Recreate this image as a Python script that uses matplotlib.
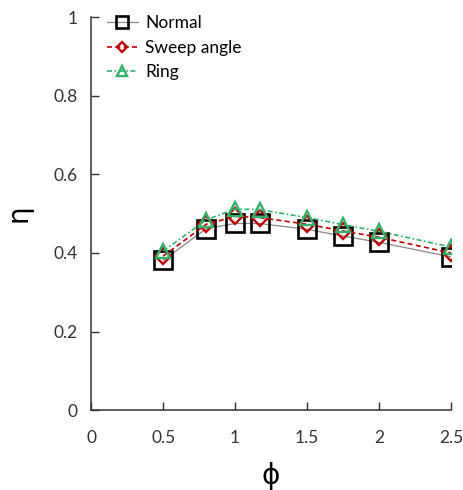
import matplotlib
matplotlib.use("Agg")
import matplotlib.pyplot as plt

phi = [0.5, 0.8, 1.0, 1.17, 1.5, 1.75, 2.0, 2.5]
normal = [0.381, 0.462, 0.475, 0.475, 0.460, 0.443, 0.427, 0.390]
sweep = [0.392, 0.473, 0.493, 0.490, 0.473, 0.456, 0.440, 0.400]
ring = [0.405, 0.484, 0.512, 0.510, 0.490, 0.472, 0.455, 0.415]

xticks = [0, 0.5, 1, 1.5, 2, 2.5]
xticklabels = ["0", "0.5", "1", "1.5", "2", "2.5"]
yticks = [0, 0.2, 0.4, 0.6, 0.8, 1]
yticklabels = ["0", "0.2", "0.4", "0.6", "0.8", "1"]

plt.rcParams['font.family'] = ['Lato', 'DejaVu Sans']

fig = plt.figure(figsize=(4.63, 4.90), dpi=100)
ax = fig.add_axes([0.197, 0.163, 0.777, 0.802])

ax.plot(phi, normal, color='#8a8a8a', lw=0.9, ls='-', marker='s', ms=12.5,
        mfc='none', mec='black', mew=1.9, label='Normal')
ax.plot(phi, sweep, color='#c00000', lw=1.2, ls=(0, (3, 2)), marker='D', ms=8.5,
        mfc='none', mec='#c00000', mew=1.7, label='Sweep angle')
ax.plot(phi, ring, color='#2fb36a', lw=1.2, ls=(0, (3, 1.5, 1, 1.5)), marker='^', ms=10.5,
        mfc='none', mec='#2fb36a', mew=1.7, label='Ring')

ax.set_xlim(0, 2.5)
ax.set_ylim(0, 1)
ax.set_xticks(xticks)
ax.set_xticklabels(xticklabels)
ax.set_yticks(yticks)
ax.set_yticklabels(yticklabels)
ax.tick_params(direction='in', length=6, width=1, labelsize=12.5, colors='#333333', pad=10)
ax.tick_params(axis='x', pad=14)
for s in ['top', 'right']:
    ax.spines[s].set_visible(False)
for s in ['left', 'bottom']:
    ax.spines[s].set_linewidth(1.1)
    ax.spines[s].set_color('#333333')

ax.set_xlabel('ϕ', fontsize=20, labelpad=12, family=['DejaVu Sans'])
ax.set_ylabel('η', fontsize=20, labelpad=15, family=['DejaVu Sans'])

leg = ax.legend(loc='upper left', bbox_to_anchor=(0.0, 1.045), frameon=False,
                fontsize=12.5, handlelength=1.8, handletextpad=0.4,
                labelspacing=0.5, markerscale=0.65)

fig.savefig('out.png', dpi=100)
